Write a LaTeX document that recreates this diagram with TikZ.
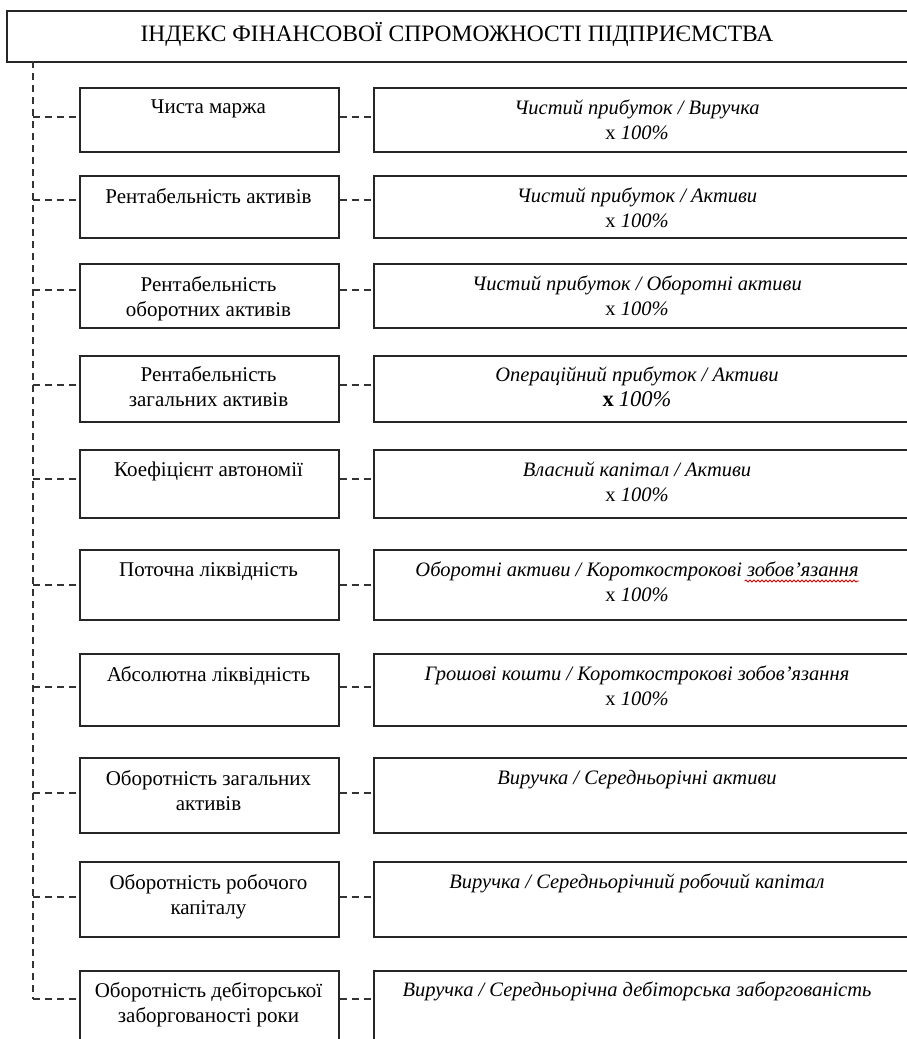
\documentclass[tikz,border=0pt]{standalone}
\usepackage{fontspec}
\setmainfont{Liberation Serif}
\usetikzlibrary{decorations.pathmorphing,calc}
\begin{document}
\begin{tikzpicture}[x=1pt,y=-1pt,
  box/.style={draw=black!85, line width=1.6pt, inner sep=0pt, anchor=north west},
  lbox/.style={box, minimum width=259pt},
  rbox/.style={box, minimum width=545pt},
  conn/.style={draw=black!80, line width=1.2pt, dash pattern=on 7pt off 5pt},
  ltxt/.style={font=\fontsize{21}{25}\selectfont, align=center, anchor=north, inner sep=0pt},
  rtxt/.style={font=\fontsize{20.5}{25}\selectfont\itshape, align=center, anchor=north, inner sep=0pt},
  squig/.style={draw=red!85!black, line width=0.9pt, decorate, decoration={snake, amplitude=1pt, segment length=4pt}}]
\useasboundingbox (0,0) rectangle (907,1039);
\clip (0,0) rectangle (907,1039);

% title
\node[box, minimum width=905pt, minimum height=51pt] (title) at (6,10) {};
\node[font=\fontsize{23.5}{28}\selectfont, inner sep=0pt] (titlet) at (457,34) {ІНДЕКС ФІНАНСОВОЇ СПРОМОЖНОСТІ ПІДПРИЄМСТВА};

% boxes
\node[lbox, minimum height=64pt] (l1) at (79,87) {};
\node[rbox, minimum height=64pt] (r1) at (373,87) {};
\node[lbox, minimum height=62pt] (l2) at (79,175) {};
\node[rbox, minimum height=62pt] (r2) at (373,175) {};
\node[lbox, minimum height=64pt] (l3) at (79,263) {};
\node[rbox, minimum height=64pt] (r3) at (373,263) {};
\node[lbox, minimum height=66pt] (l4) at (79,355) {};
\node[rbox, minimum height=66pt] (r4) at (373,355) {};
\node[lbox, minimum height=68pt] (l5) at (79,449) {};
\node[rbox, minimum height=68pt] (r5) at (373,449) {};
\node[lbox, minimum height=70pt] (l6) at (79,549) {};
\node[rbox, minimum height=70pt] (r6) at (373,549) {};
\node[lbox, minimum height=72pt] (l7) at (79,653) {};
\node[rbox, minimum height=72pt] (r7) at (373,653) {};
\node[lbox, minimum height=75pt] (l8) at (79,757) {};
\node[rbox, minimum height=75pt] (r8) at (373,757) {};
\node[lbox, minimum height=75pt] (l9) at (79,861) {};
\node[rbox, minimum height=75pt] (r9) at (373,861) {};
\node[lbox, minimum height=90pt] (l10) at (79,970) {};
\node[rbox, minimum height=90pt] (r10) at (373,970) {};

% left texts
\node[ltxt] (l1t) at (208.5,100) {Чиста маржа};
\node[ltxt] (l2t) at (208.5,188) {Рентабельність активів};
\node[ltxt] (l3t) at (208.5,276) {Рентабельність\\оборотних активів};
\node[ltxt] (l4t) at (208.5,366) {Рентабельність\\загальних активів};
\node[ltxt] (l5t) at (208.5,462) {Коефіцієнт автономії};
\node[ltxt] (l6t) at (208.5,562) {Поточна ліквідність};
\node[ltxt] (l7t) at (208.5,666) {Абсолютна ліквідність};
\node[ltxt] (l8t) at (208.5,770) {Оборотність загальних\\активів};
\node[ltxt] (l9t) at (208.5,874) {Оборотність робочого\\капіталу};
\node[ltxt] (l10t) at (208.5,982) {Оборотність дебіторської\\заборгованості роки};

% right texts
\node[rtxt] (r1t) at (637,100) {Чистий прибуток / Виручка\\{\upshape x} 100\%};
\node[rtxt] (r2t) at (637,188) {Чистий прибуток / Активи\\{\upshape x} 100\%};
\node[rtxt] (r3t) at (637,276) {Чистий прибуток / Оборотні активи\\{\upshape x} 100\%};
\node[rtxt] (r4t) at (637,367) {Операційний прибуток / Активи\\{\fontsize{22.5}{25}\selectfont\upshape\bfseries x} {\fontsize{22.5}{25}\selectfont 100\%}};
\node[rtxt] (r5t) at (637,462) {Власний капітал / Активи\\{\upshape x} 100\%};
\node[rtxt] (r6t) at (637,562) {Оборотні активи / Короткострокові зобов’язання\\{\upshape x} 100\%};
\node[rtxt] (r7t) at (637,666) {Грошові кошти / Короткострокові зобов’язання\\{\upshape x} 100\%};
\node[rtxt] (r8t) at (637,770) {Виручка / Середньорічні активи};
\node[rtxt] (r9t) at (637,874) {Виручка / Середньорічний робочий капітал};
\node[rtxt] (r10t) at (637,982) {Виручка / Середньорічна дебіторська заборгованість};

% spell-check squiggle
\draw[squig] ($(r6t.north east)+(-114,19)$) -- ($(r6t.north east)+(0,19)$);

% spine and connectors
\coordinate (s0) at (33,61);
\coordinate (s1) at (33,117);
\coordinate (s2) at (33,200);
\coordinate (s3) at (33,290);
\coordinate (s4) at (33,385);
\coordinate (s5) at (33,479);
\coordinate (s6) at (33,585);
\coordinate (s7) at (33,687);
\coordinate (s8) at (33,793);
\coordinate (s9) at (33,897);
\coordinate (s10) at (33,999);
\draw[conn] (s0) -- (s10);
\foreach \i in {1,...,10}{
  \draw[conn] (s\i) -- (s\i -| l\i.west);
  \draw[conn] (s\i -| l\i.east) -- (s\i -| r\i.west);
}
\end{tikzpicture}
\end{document}
